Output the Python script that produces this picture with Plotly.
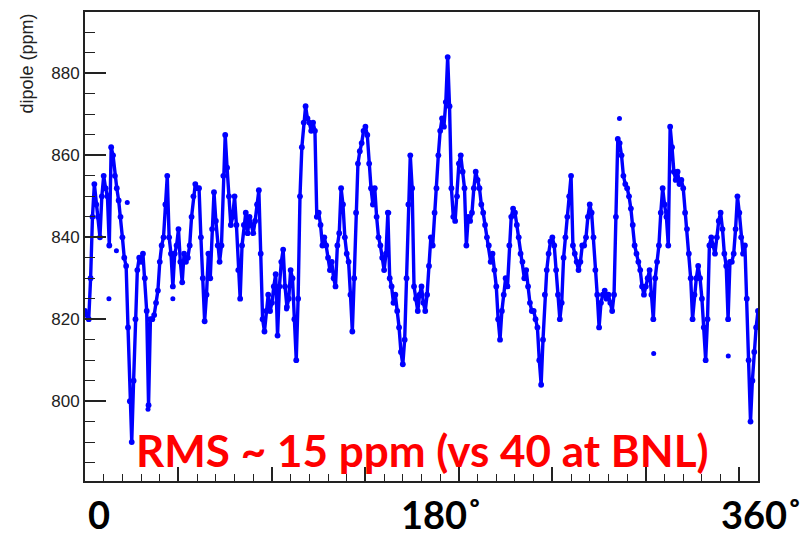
import plotly.graph_objects as go

# Dipole field around the ring, one reading per degree of azimuth (ppm)
azimuth_deg = list(range(0, 361))
dipole_ppm = [
    822, 821, 820, 830, 845, 853, 848, 845, 840, 850,   # 0-9
    855, 852, 850, 838, 862, 860, 855, 852, 849, 845,   # 10-19
    840, 835, 833, 818, 800, 790, 805, 820, 832, 835,   # 20-29
    834, 836, 830, 822, 799, 820, 820, 821, 824, 827,   # 30-39
    834, 838, 840, 848, 855, 840, 836, 828, 836, 838,   # 40-49
    842, 834, 829, 836, 834, 835, 838, 845, 850, 853,   # 50-59
    852, 852, 840, 830, 819.5, 826, 836, 830, 842, 851, # 60-69
    844, 838, 834, 838, 855, 865, 857, 850, 843, 845,   # 70-79
    850, 843, 832, 825, 838, 843, 846, 841, 845, 843,   # 80-89
    841, 844, 848, 851.5, 836, 820, 817, 822, 826, 822, # 90-99
    824, 828, 831, 816, 828, 834, 837, 828, 823, 825,   # 100-109
    832, 830, 820, 810, 825, 850, 862, 868, 872, 869,   # 110-119
    868, 866, 868, 866, 845, 846, 843, 838, 840, 838,   # 120-129
    835, 832, 834, 830, 828, 838, 841, 852, 848, 840,   # 130-139
    836, 834, 826, 817, 830, 846, 858, 861, 863, 866,   # 140-149
    867, 865, 858, 852, 848, 852, 845, 840, 838, 835,   # 150-159
    832, 836, 846, 830, 828, 824, 826, 822, 818, 812,   # 160-169
    809, 815, 830, 848, 860, 852, 828, 825, 822, 826,   # 170-179
    828, 824, 822, 826, 833, 840, 838, 846, 852, 860,   # 180-189
    866, 869, 867, 873, 884, 872, 852, 845, 844, 850,   # 190-199
    858, 860, 856, 852, 838, 845, 844, 846, 852, 856,   # 200-209
    854, 852, 848, 846, 843, 840, 838, 834, 836, 832,   # 210-219
    828, 820, 815, 822, 826, 830, 828, 838, 845, 847,   # 220-229
    846, 843, 840, 836, 834, 830, 832, 828, 824, 822,   # 230-239
    822, 820, 818, 810, 804, 815, 826, 832, 836, 839,   # 240-249
    840, 838, 832, 826, 820, 824, 835, 840, 845, 850,   # 250-259
    855, 838, 836, 834, 832, 834, 838, 838, 840, 845,   # 260-269
    848, 846, 840, 832, 826, 818, 824, 826, 827, 825,   # 270-279
    826, 824, 822, 826, 845, 864, 863, 860, 855, 853,   # 280-289
    852, 850, 847, 843, 838, 836, 834, 832, 828, 826,   # 290-299
    828, 830, 832, 826, 820, 830, 834, 838, 846, 852,   # 300-309
    848, 845, 838, 867, 862, 856, 854, 856, 853, 854,   # 310-319
    852, 846, 842, 836, 830, 820, 826, 830, 833, 830,   # 320-329
    825, 818, 810, 820, 838, 840, 838, 836, 840, 844,   # 330-339
    846, 842, 836, 833, 820, 834, 834, 836, 842, 850,   # 340-349
    846, 840, 836, 838, 825, 810, 795, 805, 812, 818,   # 350-359
    822,                                                 # 360
]

# Isolated readings lying off the main trace
stray_deg = [16.8, 22.6, 47.0, 107.8, 285.9, 304.2, 344.1, 12.8, 33.7, 162.5]
stray_ppm = [836.7, 848.5, 825.0, 822.5, 869.0, 811.6, 811.0, 825.0, 798.0, 846.0]

# Large azimuth labels under the frame (paper x positions)
angle_labels = ["0", "180˚", "360˚"]
angle_label_pos = [0.021, 0.529, 1.005]

BLUE = "#0000ff"

fig = go.Figure()
# Dense readings: dots joined by a stroke so steep runs read as solid columns
fig.add_trace(go.Scatter(
    x=azimuth_deg, y=dipole_ppm, mode="lines+markers",
    line=dict(color=BLUE, width=3.4),
    marker=dict(color=BLUE, size=5.8, line=dict(width=0)),
    showlegend=False, hoverinfo="x+y",
))
fig.add_trace(go.Scatter(
    x=stray_deg, y=stray_ppm, mode="markers",
    marker=dict(color=BLUE, size=5, line=dict(width=0)),
    showlegend=False, hoverinfo="x+y",
))

axis_line = dict(showline=True, linecolor="#222222", linewidth=2, mirror=True,
                 showgrid=False, zeroline=False)

fig.update_xaxes(
    range=[0, 360], tickmode="linear", tick0=0, dtick=50,
    ticks="inside", ticklen=14, tickwidth=1.5, tickcolor="#222222",
    minor=dict(dtick=10, ticks="inside", ticklen=7, tickwidth=1.2, tickcolor="#222222"),
    showticklabels=False, **axis_line,
)
fig.update_yaxes(
    range=[780.5, 895], tickvals=[800, 820, 840, 860, 880],
    ticks="inside", ticklen=21, tickwidth=1.5, tickcolor="#222222",
    minor=dict(dtick=5, ticks="inside", ticklen=10, tickwidth=1.2, tickcolor="#222222"),
    tickfont=dict(family="Liberation Sans, Arial, sans-serif", size=17, color="#222222"),
    **axis_line,
)

# Vertical axis title, placed at the top of the axis
fig.add_annotation(
    text="dipole (ppm)", textangle=-90, showarrow=False,
    xref="paper", yref="paper", x=-0.0862, y=0.89,
    xanchor="center", yanchor="middle",
    font=dict(family="Liberation Sans, Arial, sans-serif", size=18, color="#222222"),
)

for lbl, pos in zip(angle_labels, angle_label_pos):
    fig.add_annotation(
        text=f"<b>{lbl}</b>", showarrow=False,
        xref="paper", yref="paper", x=pos, y=-0.0705,
        xanchor="center", yanchor="middle",
        font=dict(family="Lato, Open Sans, sans-serif", size=38, color="#000000"),
    )

fig.add_annotation(
    text="<b>RMS ~ 15 ppm (vs 40 at BNL)</b>", showarrow=False,
    xref="paper", yref="paper", x=0.5015, y=0.067,
    xanchor="center", yanchor="middle",
    font=dict(family="Lato, Open Sans, sans-serif", size=44, color="#ff0000"),
)

fig.update_layout(
    width=810, height=538,
    margin=dict(l=85, r=52, t=10, b=57),
    paper_bgcolor="white", plot_bgcolor="white",
)

fig.write_html("out.html")
